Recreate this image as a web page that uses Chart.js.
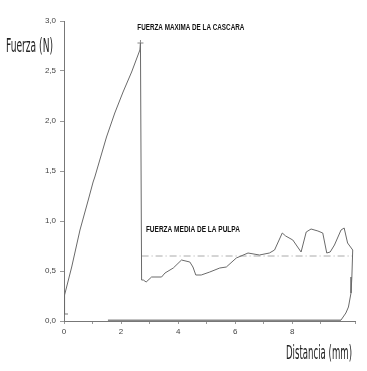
<!DOCTYPE html>
<html><head><meta charset="utf-8">
<script src="https://cdn.jsdelivr.net/npm/chart.js@4"></script>
<style>html,body{margin:0;padding:0;background:#fff}#w{width:367px;height:371px}</style>
</head><body><div id="w"><canvas id="c" width="367" height="371"></canvas></div>
<script>
// Curve: distance (mm) and force (N)
const curveX = [0, 0.01, 0.03, 0.27, 0.56, 0.85, 1.02, 1.08, 1.49, 1.78, 2.07, 2.37, 2.66, 2.68, 2.72, 2.78, 2.88, 3.07, 3.42, 3.54, 3.83, 4.12, 4.41, 4.52, 4.62, 4.81, 5.11, 5.46, 5.69, 6.04, 6.45, 6.85, 7.2, 7.38, 7.65, 7.77, 8.02, 8.31, 8.49, 8.66, 8.9, 9.07, 9.21, 9.33, 9.48, 9.71, 9.82, 9.94, 10.12, 10.09, 10.06, 9.97, 9.88, 9.71];
const curveY = [0.07, 0.18, 0.26, 0.54, 0.91, 1.21, 1.39, 1.44, 1.84, 2.08, 2.29, 2.49, 2.71, 2.78, 0.41, 0.41, 0.39, 0.44, 0.44, 0.48, 0.53, 0.61, 0.59, 0.54, 0.46, 0.46, 0.49, 0.53, 0.54, 0.63, 0.68, 0.66, 0.68, 0.71, 0.88, 0.85, 0.81, 0.69, 0.89, 0.92, 0.90, 0.88, 0.68, 0.69, 0.76, 0.91, 0.93, 0.78, 0.71, 0.44, 0.28, 0.14, 0.08, 0.01];
const returnX = [9.71, 1.54];
const returnY = [0, 0];
const meanX = [2.72, 10.12];
const meanY = [0.65, 0.65];
const peakX = [2.68];
const peakY = [2.78];
const yTitle = "Fuerza (N)";
const xTitle = "Distancia (mm)";
const noteMax = "FUERZA MAXIMA DE LA CASCARA";
const noteMean = "FUERZA MEDIA DE LA PULPA";

const pts = (xs, ys) => xs.map((x, i) => ({x, y: ys[i]}));

function fitText(ctx, text, x, y, w, font, color) {
  ctx.save();
  ctx.font = font;
  ctx.fillStyle = color;
  ctx.textBaseline = 'middle';
  ctx.textAlign = 'left';
  const m = ctx.measureText(text).width;
  ctx.translate(x, y);
  ctx.scale(w / m, 1);
  ctx.fillText(text, 0, 0);
  ctx.restore();
}

const textPlugin = {
  id: 'texts',
  afterDraw(chart) {
    const ctx = chart.ctx;
    const xs = chart.scales.x, ys = chart.scales.y;
    fitText(ctx, yTitle, 6, 47, 47, '20px "Liberation Sans Narrow", "DejaVu Sans Condensed", sans-serif', '#222');
    fitText(ctx, xTitle, 286, 354, 66, '20px "Liberation Sans Narrow", "DejaVu Sans Condensed", sans-serif', '#222');
    fitText(ctx, noteMax, xs.getPixelForValue(2.57), ys.getPixelForValue(2.93), 107, 'bold 9px "Liberation Sans Narrow", "Liberation Sans", sans-serif', '#111');
    fitText(ctx, noteMean, xs.getPixelForValue(2.87), ys.getPixelForValue(0.91), 94, 'bold 9px "Liberation Sans Narrow", "Liberation Sans", sans-serif', '#111');
  }
};

new Chart(document.getElementById('c'), {
  type: 'scatter',
  data: {
    datasets: [
      {data: pts(curveX, curveY), showLine: true, borderColor: '#6a6a6a', borderWidth: 1, pointRadius: 0, tension: 0},
      {data: pts(returnX, returnY), showLine: true, borderColor: '#888', borderWidth: 3, pointRadius: 0},
      {data: pts(meanX, meanY), showLine: true, borderColor: '#aaa', borderWidth: 1, borderDash: [7, 3, 1, 3], pointRadius: 0},
      {data: pts(peakX, peakY), showLine: false, pointStyle: 'cross', pointRadius: 3, borderColor: '#888', borderWidth: 1},
      {data: pts([curveX[0]], [curveY[0]]), showLine: false, pointStyle: 'line', pointRadius: 4, borderColor: '#777', borderWidth: 1}
    ]
  },
  options: {
    responsive: false,
    animation: false,
    events: [],
    layout: {padding: {top: 21, right: 12, left: 0, bottom: 0}},
    plugins: {legend: {display: false}, tooltip: {enabled: false}},
    scales: {
      x: {
        type: 'linear', min: 0, max: 10.2,
        afterFit(s) { s.height = 50; },
        border: {color: '#777', width: 1},
        grid: {drawOnChartArea: false, tickLength: 3, color: '#999'},
        ticks: {stepSize: 1, autoSkip: false, maxRotation: 0, padding: 3, color: '#444',
          font: {size: 8, family: '"Liberation Sans Narrow", sans-serif'},
          callback: v => (v % 2 === 0 ? String(v) : '')}
      },
      y: {
        type: 'linear', min: 0, max: 3,
        afterFit(s) { s.width = 64; },
        border: {color: '#777', width: 1},
        grid: {drawOnChartArea: false, tickLength: 4, color: '#999'},
        ticks: {stepSize: 0.5, padding: 4, color: '#444',
          font: {size: 8, family: '"Liberation Sans Narrow", sans-serif'},
          callback: v => v.toFixed(1).replace('.', ',')}
      }
    }
  },
  plugins: [textPlugin]
});
</script></body></html>
